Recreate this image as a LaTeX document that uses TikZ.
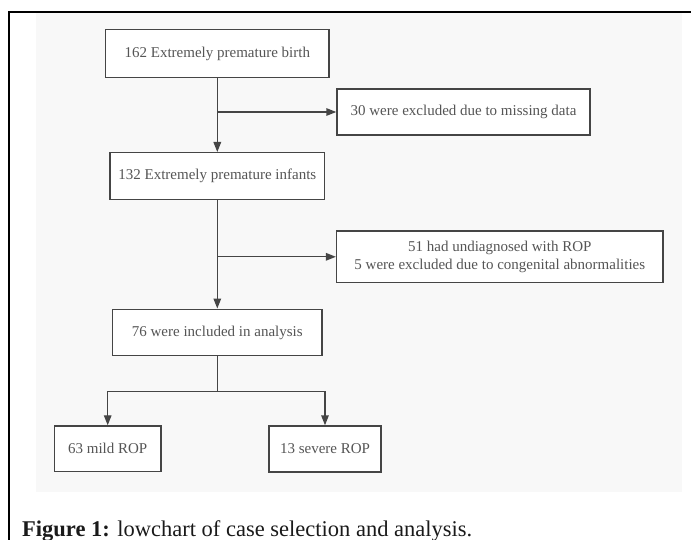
\documentclass[tikz,border=0pt]{standalone}
\usepackage{fontspec}
\setmainfont{Liberation Serif}
\usetikzlibrary{arrows.meta}
\definecolor{bggray}{HTML}{F8F8F8}
\definecolor{boxline}{HTML}{454545}
\definecolor{boxtext}{HTML}{555555}
\definecolor{captext}{HTML}{1A1A1A}
\begin{document}
\begin{tikzpicture}[x=1pt,y=-1pt,
  flowbox/.style={draw=boxline, line width=1.4pt, fill=white, inner sep=0pt,
    text=boxtext, font=\fontsize{15}{18.4}\selectfont, align=center},
  arr/.style={draw=boxline, line width=1.4pt, -{Triangle[length=10pt,width=7.5pt]}},
  plain/.style={draw=boxline, line width=1.4pt}]
\useasboundingbox (0,0) rectangle (691,540);
% background panel and frame
\fill[bggray] (36,13) rectangle (682,491.7);
\draw[black, line width=1.2pt] (691,12) -- (9,12) -- (9,540);
% boxes
\node[flowbox, minimum width=223.3pt, minimum height=48.4pt] (b162) at (217.3,53.5) {162 Extremely premature birth};
\node[flowbox, minimum width=253pt, minimum height=46pt] (b30) at (463.5,112) {30 were excluded due to missing data};
\node[flowbox, minimum width=214.3pt, minimum height=46.6pt] (b132) at (217.3,176) {132 Extremely premature infants};
\node[flowbox, minimum width=326.3pt, minimum height=51.7pt] (b51) at (499.8,256.8) {51 had undiagnosed with ROP\\5 were excluded due to congenital abnormalities};
\node[flowbox, minimum width=209.6pt, minimum height=46.4pt] (b76) at (217.3,332.5) {76 were included in analysis};
\node[flowbox, minimum width=106.7pt, minimum height=45.5pt] (mild) at (107.7,448.7) {63 mild ROP};
\node[flowbox, minimum width=112pt, minimum height=46pt] (severe) at (325,449) {13 severe ROP};
% junctions
\coordinate (j1) at (217.3,112);
\coordinate (j2) at (217.3,256.8);
\coordinate (split) at (217.3,391.5);
% connectors
\draw[arr] (b162.south) -- (b132.north);
\draw[arr] (j1) -- (b30.west);
\draw[arr] (b132.south) -- (b76.north);
\draw[arr] (j2) -- (b51.west);
\draw[plain] (b76.south) -- (split);
\draw[arr] (split) -| (mild.north);
\draw[arr] (split) -| (severe.north);
% caption
\node[anchor=base west, inner sep=0pt, text=captext, font=\fontsize{22.5}{27}\selectfont] (cap) at (22,536) {\textbf{Figure 1:} lowchart of case selection and analysis.};
\end{tikzpicture}
\end{document}
